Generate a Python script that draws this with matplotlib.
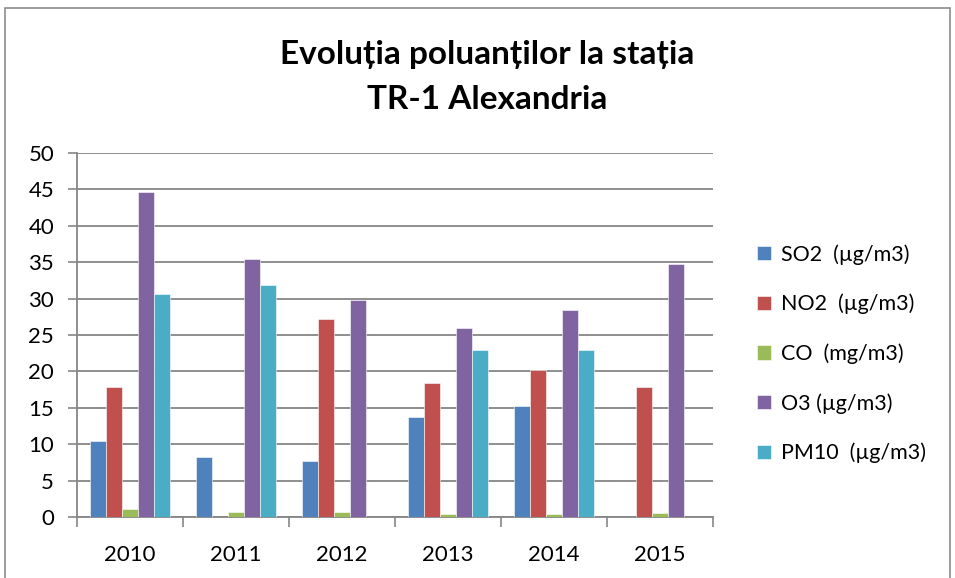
import matplotlib.pyplot as plt
import matplotlib.patches as mpatches
import numpy as np

plt.rcParams['font.family'] = ['Lato', 'DejaVu Sans']

years = ['2010', '2011', '2012', '2013', '2014', '2015']
so2 = [10.5, 8.2, 7.7, 13.7, 15.3, np.nan]
no2 = [17.9, np.nan, 27.2, 18.4, 20.2, 17.9]
co = [1.15, 0.75, 0.65, 0.45, 0.4, 0.6]
o3 = [44.7, 35.5, 29.8, 25.9, 28.5, 34.7]
pm10 = [30.6, 31.9, np.nan, 22.9, 22.9, np.nan]

labels = ['SO2  (µg/m3)', 'NO2  (µg/m3)', 'CO  (mg/m3)', 'O3 (µg/m3)', 'PM10  (µg/m3)']
colors = ['#4F81BD', '#C0504D', '#9BBB59', '#8064A2', '#4BACC6']
series = [so2, no2, co, o3, pm10]

fig = plt.figure(figsize=(9.55, 5.78), dpi=100)
fig.patches.append(mpatches.Rectangle((0.005, -0.01), 0.99, 0.997, transform=fig.transFigure,
                                      fill=False, edgecolor='#8c8c8c', linewidth=1.2))
ax = fig.add_axes([0.0806, 0.1055, 0.666, 0.6298])

x = np.arange(len(years))
w = 0.15
for i, (vals, lab, c) in enumerate(zip(series, labels, colors)):
    ax.bar(x + (i - 2) * w, vals, w, color=c, label=lab, edgecolor='white', linewidth=0.4, zorder=3)

ax.set_xlim(-0.5, len(years) - 0.5)
ax.set_ylim(0, 50)
ax.set_yticks(np.arange(0, 51, 5))
ax.set_xticks(x)
ax.set_xticklabels(years)
ax.set_xticks(np.arange(-0.5, len(years), 1), minor=True)
ax.tick_params(axis='x', which='major', length=0, pad=20, labelsize=16)
ax.tick_params(axis='x', which='minor', length=7, color='#868686', width=1.2)
ax.tick_params(axis='y', length=6.5, color='#868686', width=1.2, labelsize=16, pad=10)
ax.grid(axis='y', color='#868686', linewidth=1.3, zorder=0)
for s in ['top', 'right']:
    ax.spines[s].set_visible(False)
for s in ['left', 'bottom']:
    ax.spines[s].set_color('#868686')
    ax.spines[s].set_linewidth(1.3)

fig.text(0.51, 0.905, 'Evoluția poluanților la stația', ha='center', va='center',
         fontsize=24, fontweight='bold')
fig.text(0.51, 0.827, 'TR-1 Alexandria', ha='center', va='center',
         fontsize=24, fontweight='bold')

leg = fig.legend(loc='center left', bbox_to_anchor=(0.772, 0.388), frameon=False, fontsize=15.5,
                 handlelength=0.65, handleheight=0.65, handletextpad=0.5, labelspacing=1.35)

fig.savefig('out.png', dpi=100)
